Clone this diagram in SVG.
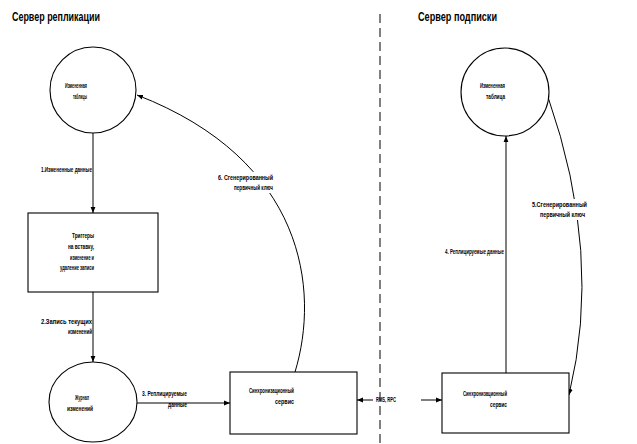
<svg xmlns="http://www.w3.org/2000/svg" width="637" height="444" viewBox="0 0 637 444">
<defs>
<style>
.t{font-family:"Liberation Sans","DejaVu Sans",sans-serif;font-size:7px;fill:#000;font-weight:bold}
.h{font-family:"Liberation Sans","DejaVu Sans",sans-serif;font-size:13px;fill:#000;font-weight:bold}
.n{fill:#fff;stroke:#000;stroke-width:1.1}
.c{fill:none;stroke:#000;stroke-width:1}
.bg{fill:#fff}
</style>
<marker id="a" viewBox="0 0 10 10" refX="10" refY="5" markerWidth="6" markerHeight="6" orient="auto" markerUnits="userSpaceOnUse">
<path d="M0,1 L10,5 L0,9 z" fill="#000"/>
</marker>
</defs>
<rect width="637" height="444" fill="#fff"/>
<text class="h" x="12" y="21" textLength="88" lengthAdjust="spacingAndGlyphs">Сервер репликации</text>
<text class="h" x="418" y="21" textLength="79" lengthAdjust="spacingAndGlyphs">Сервер подписки</text>
<line x1="380" y1="14" x2="380" y2="444" stroke="#000" stroke-width="1" stroke-dasharray="9,5"/>

<g id="connectors">
<line class="c" x1="93" y1="133" x2="93" y2="213" marker-end="url(#a)"/>
<line class="c" x1="93" y1="292" x2="93" y2="362" marker-end="url(#a)"/>
<line class="c" x1="137" y1="403" x2="230" y2="403" marker-end="url(#a)"/>
<path class="c" d="M295,372 C320,290 305,160 137,95" marker-end="url(#a)"/>
<line class="c" x1="373" y1="400" x2="357" y2="400" marker-end="url(#a)"/>
<line class="c" x1="421" y1="400" x2="442" y2="400" marker-end="url(#a)"/>
<line class="c" x1="506" y1="373" x2="506" y2="136" marker-end="url(#a)"/>
<path class="c" d="M548,97 Q603,255 569,395" marker-end="url(#a)"/>
<text class="t" x="41" y="172" textLength="51" lengthAdjust="spacingAndGlyphs">1.Измененные данные</text>
<text class="t" x="41" y="324" textLength="51" lengthAdjust="spacingAndGlyphs">2.Запись текущих</text>
<text class="t" x="68" y="334" textLength="24" lengthAdjust="spacingAndGlyphs">изменений</text>
<text class="t" x="142" y="396" textLength="45" lengthAdjust="spacingAndGlyphs">3. Реплицируемые</text>
<text class="t" x="168" y="407" textLength="19" lengthAdjust="spacingAndGlyphs">данные</text>
<rect class="bg" x="216" y="172" width="60" height="21"/>
<text class="t" x="218" y="180" textLength="55" lengthAdjust="spacingAndGlyphs">6. Сгенерированный</text>
<text class="t" x="234" y="190" textLength="39" lengthAdjust="spacingAndGlyphs">первичный ключ</text>
<text class="t" x="376" y="402" textLength="20" lengthAdjust="spacingAndGlyphs">RMS, RPC</text>
<text class="t" x="445" y="254" textLength="59" lengthAdjust="spacingAndGlyphs">4. Реплицируемые данные</text>
<rect class="bg" x="530" y="199" width="58" height="21"/>
<text class="t" x="532" y="207" textLength="55" lengthAdjust="spacingAndGlyphs">5.Сгенерированный</text>
<text class="t" x="540" y="217" textLength="45" lengthAdjust="spacingAndGlyphs">первичный ключ</text>
</g>

<g id="node-table-left">
<circle class="n" cx="93" cy="90" r="43"/>
<text class="t" x="65" y="88" textLength="22" lengthAdjust="spacingAndGlyphs">Измененная</text>
<text class="t" x="73" y="99" textLength="14" lengthAdjust="spacingAndGlyphs">таблицы</text>
</g>
<g id="node-triggers">
<rect class="n" x="28" y="213" width="130" height="79"/>
<text class="t" x="72" y="238" textLength="22" lengthAdjust="spacingAndGlyphs">Триггеры</text>
<text class="t" x="68" y="249" textLength="26" lengthAdjust="spacingAndGlyphs">на вставку,</text>
<text class="t" x="70" y="260" textLength="24" lengthAdjust="spacingAndGlyphs">изменение и</text>
<text class="t" x="60" y="270" textLength="34" lengthAdjust="spacingAndGlyphs">удаление записи</text>
</g>
<g id="node-log">
<ellipse class="n" cx="93" cy="402" rx="44" ry="40"/>
<text class="t" x="75" y="400" textLength="14" lengthAdjust="spacingAndGlyphs">Журнал</text>
<text class="t" x="67" y="411" textLength="26" lengthAdjust="spacingAndGlyphs">изменений</text>
</g>
<g id="node-sync-left">
<rect class="n" x="230" y="372" width="127" height="62"/>
<text class="t" x="249" y="393" textLength="45" lengthAdjust="spacingAndGlyphs">Синхронизационный</text>
<text class="t" x="275" y="404" textLength="19" lengthAdjust="spacingAndGlyphs">сервис</text>
</g>
<g id="node-table-right">
<circle class="n" cx="505" cy="92" r="44"/>
<text class="t" x="480" y="88" textLength="25" lengthAdjust="spacingAndGlyphs">Измененная</text>
<text class="t" x="486" y="99" textLength="19" lengthAdjust="spacingAndGlyphs">таблица</text>
</g>
<g id="node-sync-right">
<rect class="n" x="442" y="373" width="127" height="60"/>
<text class="t" x="463" y="396" textLength="44" lengthAdjust="spacingAndGlyphs">Синхронизационный</text>
<text class="t" x="490" y="407" textLength="17" lengthAdjust="spacingAndGlyphs">сервис</text>
</g>
</svg>
